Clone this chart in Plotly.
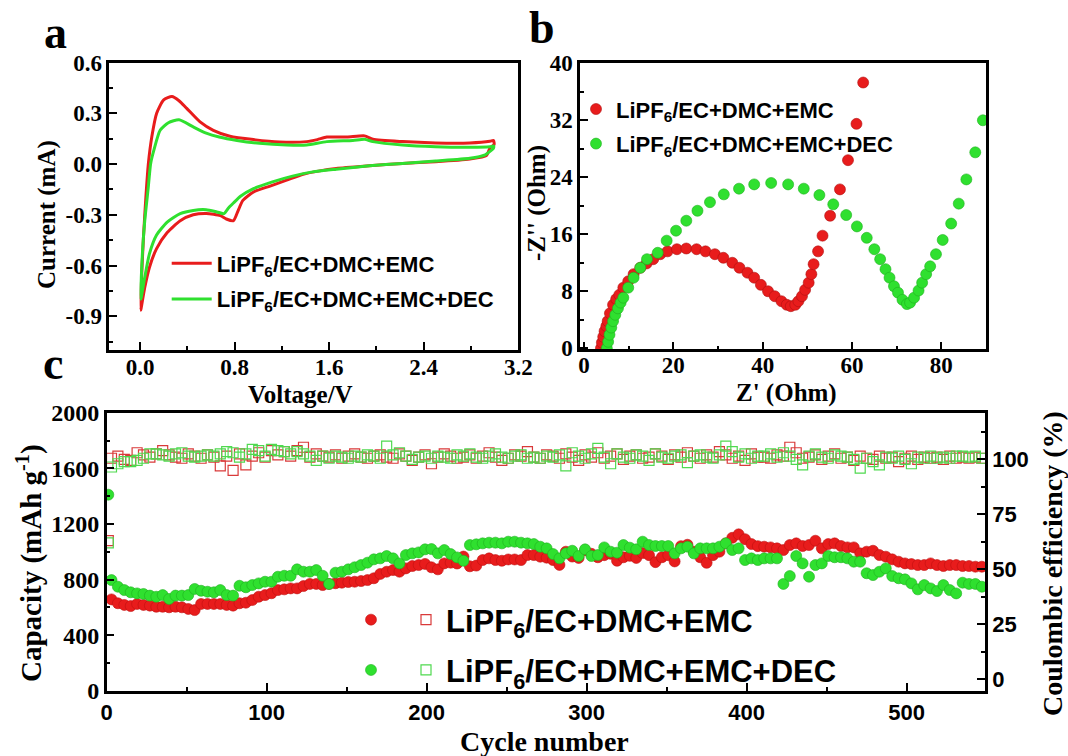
import plotly.graph_objects as go

W, H = 1068, 756
SERIF = "Liberation Serif"
SANS = "Liberation Sans"
RED = "#e81c1c"
GREEN = "#2fe02f"
RED_SQ = "#d93a3a"
GREEN_SQ = "#4fd94f"

LBL1 = "LiPF<sub>6</sub>/EC+DMC+EMC"
LBL2 = "LiPF<sub>6</sub>/EC+DMC+EMC+DEC"

# ---------------- panel a : cyclic voltammetry ----------------
cv_red_v = [0.006, 0.015, 0.03, 0.05, 0.07, 0.10, 0.14, 0.20, 0.27, 0.33, 0.395, 0.508, 0.62, 0.76,
            0.96, 1.18, 1.41, 1.50, 1.58, 1.75, 1.90, 1.97, 2.22, 2.50, 2.79, 2.96, 2.99, 2.995,
            2.96, 2.93, 2.79, 2.50, 2.22, 1.94, 1.66, 1.52, 1.38, 1.24, 1.10, 0.96, 0.87, 0.83,
            0.79, 0.73, 0.68, 0.56, 0.45, 0.34, 0.23, 0.14, 0.08, 0.04, 0.01, 0.006]
cv_red_i = [-0.865, -0.64, -0.42, -0.19, 0.0, 0.163, 0.30, 0.38, 0.40, 0.375, 0.33, 0.25, 0.20, 0.165,
            0.145, 0.131, 0.133, 0.145, 0.16, 0.16, 0.167, 0.147, 0.133, 0.125, 0.125, 0.135, 0.14, 0.115,
            0.095, 0.05, 0.03, 0.014, 0.004, -0.01, -0.026, -0.04, -0.06, -0.095, -0.13, -0.165, -0.215, -0.275,
            -0.335, -0.325, -0.305, -0.292, -0.30, -0.335, -0.405, -0.50, -0.61, -0.73, -0.85, -0.865]
cv_green_v = [0.006, 0.02, 0.04, 0.07, 0.09, 0.12, 0.17, 0.24, 0.33, 0.45, 0.56, 0.67, 0.82, 1.01,
              1.24, 1.41, 1.58, 1.80, 1.90, 1.97, 2.22, 2.50, 2.79, 2.96, 2.99, 2.99, 2.96, 2.92,
              2.79, 2.50, 2.22, 1.94, 1.66, 1.46, 1.29, 1.12, 0.96, 0.85, 0.79, 0.75, 0.71, 0.65,
              0.56, 0.45, 0.34, 0.23, 0.14, 0.08, 0.04, 0.01, 0.006]
cv_green_i = [-0.80, -0.53, -0.335, -0.135, 0.004, 0.09, 0.20, 0.245, 0.262, 0.22, 0.183, 0.16, 0.14, 0.123,
              0.113, 0.113, 0.133, 0.14, 0.147, 0.133, 0.113, 0.103, 0.10, 0.103, 0.107, 0.095, 0.075, 0.055,
              0.034, 0.018, 0.004, -0.01, -0.03, -0.046, -0.071, -0.105, -0.145, -0.19, -0.23, -0.258, -0.293, -0.283,
              -0.27, -0.274, -0.293, -0.343, -0.42, -0.53, -0.67, -0.79, -0.80]
a_xticks = [0.0, 0.8, 1.6, 2.4, 3.2]
a_xticktext = ["0.0", "0.8", "1.6", "2.4", "3.2"]
a_yticks = [-0.9, -0.6, -0.3, 0.0, 0.3, 0.6]
a_yticktext = ["-0.9", "-0.6", "-0.3", "0.0", "0.3", "0.6"]

# ---------------- panel b : impedance ----------------
eis_red_zr = [3.8, 4.0, 4.3, 4.6, 5.0, 5.3, 5.8, 6.5, 7.2, 7.9, 8.8, 9.9, 11.1, 12.6, 14.0, 15.5, 17.1,
              18.7, 20.8, 22.9, 25.2, 27.2, 29.3, 31.2, 33.2, 34.8, 36.6, 38.1, 39.6, 41.2, 42.7, 44.2,
              45.4, 46.3, 47.3, 48.0, 48.8, 49.5, 50.3, 50.9, 51.4, 52.4, 53.4, 55.1, 57.3, 59.1, 61.0, 62.5]
eis_red_zi = [0.0, 0.8, 1.6, 2.4, 3.1, 3.8, 4.9, 6.1, 6.9, 7.5, 8.5, 9.4, 10.4, 11.3, 11.9, 12.5, 13.2,
              13.6, 13.9, 14.0, 13.9, 13.6, 13.2, 12.7, 12.0, 11.3, 10.6, 9.9, 8.9, 8.0, 7.3, 6.6,
              6.1, 5.9, 6.1, 6.6, 7.3, 8.2, 9.2, 10.4, 11.8, 13.6, 15.8, 18.6, 22.3, 26.4, 31.5, 37.3]
eis_green_zr = [5.1, 5.4, 5.7, 6.1, 6.5, 7.0, 7.6, 8.2, 8.8, 9.9, 11.1, 12.6, 14.1, 16.5, 18.5, 20.6, 22.9,
                25.4, 28.2, 31.3, 34.7, 38.1, 41.9, 45.7, 49.2, 52.7, 55.8, 58.7, 61.1, 63.3, 65.0, 66.3,
                67.5, 68.4, 69.4, 70.3, 71.3, 72.3, 73.0, 73.9, 74.9, 75.7, 76.6, 77.5, 78.8, 80.3, 82.2,
                83.9, 85.6, 87.6, 89.3]
eis_green_zi = [0.0, 0.9, 1.9, 2.9, 3.8, 4.7, 5.6, 6.4, 7.1, 8.5, 9.9, 11.3, 12.5, 13.4, 15.1, 16.5, 17.9,
                19.3, 20.5, 21.6, 22.4, 23.0, 23.2, 23.0, 22.4, 21.5, 20.2, 18.7, 17.1, 15.5, 13.9, 12.5,
                11.1, 9.9, 8.7, 7.8, 6.8, 6.2, 6.4, 7.1, 8.1, 9.2, 10.4, 11.5, 13.2, 15.2, 17.5,
                20.3, 23.7, 27.5, 32.0]

# ---------------- panel c : cycling ----------------
cycles = list(range(3, 548, 4))
first_cycle = [1]
cap_red = [657, 629, 617, 609, 624, 617, 612, 604, 604, 600, 604, 600, 588, 580, 624, 624, 624,
           624, 617, 612, 629, 633, 652, 676, 688, 701, 724, 729, 736, 736, 753, 768, 768, 760,
           768, 773, 777, 782, 784, 789, 796, 809, 840, 856, 868, 856, 880, 897, 904, 912, 888,
           873, 916, 921, 915, 965, 895, 900, 940, 952, 940, 935, 944, 944, 940, 976, 976, 964, 957,
           940, 905, 1000, 965, 955, 1010, 985, 960, 975, 985, 935, 960, 970, 955, 990, 975, 925,
           960, 975, 930, 1040, 1050, 1000, 960, 920, 975, 1000, 1060, 1100, 1125, 1090, 1055, 1040,
           1036, 1031, 1024, 1012, 1048, 1060, 1041, 1048, 1079, 1024, 1055, 1060, 1041, 1031, 1031,
           988, 1000, 1007, 976, 964, 945, 928, 916, 911, 904, 904, 916, 904, 897, 904, 904, 897,
           897, 892, 892]
cap_green = [1410,
             796, 748, 724, 708, 700, 696, 684, 676, 688, 660, 684, 684, 688, 732, 719, 712, 708,
             724, 688, 684, 755, 744, 760, 772, 784, 784, 820, 827, 827, 873, 856, 856, 868, 827,
             768, 849, 856, 873, 888, 904, 921, 945, 952, 969, 952, 916, 976, 988, 995, 1017, 1019,
             988, 1012, 983, 959, 935, 1048, 1053, 1060, 1065, 1065, 1060, 1072, 1072, 1065, 1060,
             1055, 1036, 1024,
             983, 952, 988, 1007, 969, 1017, 969, 976, 1031, 1000, 993, 1048, 1029, 1017, 1072, 1048,
             1041, 1041, 1041, 988, 1024, 1036, 988, 1024, 1024, 1024, 1036, 1060, 1012, 1024, 940,
             952, 940,
             952, 952, 952, 768, 825, 969, 916, 820, 904, 916, 969, 960, 960, 952, 928, 928, 845,
             832, 856, 880, 825, 809, 801, 772, 729, 760, 736, 717, 760, 724, 700, 777, 768, 768, 748]
ce_red = [63.0,
          100.5, 101.5, 100.0, 99.5, 103.0, 102.0, 101.0, 102.5, 104.0, 102.0, 101.0, 100.5, 102.5,
          101.5, 100.5, 102.0, 101.0, 97.0, 101.5, 95.0, 102.5, 97.5, 101.5, 103.0, 101.0, 104.0,
          102.0, 103.5, 101.5, 104.0, 105.5, 101.0, 102.5, 101.5,
          101.0, 102.0, 100.5, 101.5, 102.5, 101.0, 100.5, 101.5, 102.0, 101.0, 100.5, 102.5, 101.5,
          99.5, 101.0, 102.0, 98.0, 101.0, 102.5, 101.5, 100.5, 101.0, 102.0, 100.5, 101.5, 103.0,
          101.0, 99.5, 100.5, 102.0, 101.5, 103.5, 101.0, 100.5, 102.0,
          101.5, 100.5, 102.5, 101.0, 99.5, 102.0, 101.0, 103.0, 100.5, 101.5, 102.5, 100.0, 101.5,
          102.0, 100.5, 101.0, 102.5, 101.5, 100.0, 102.0, 101.0, 103.0, 101.5, 100.5, 102.0, 101.0,
          103.5, 102.0, 100.5, 101.5, 99.5, 102.5, 101.0,
          101.0, 100.5, 102.0, 101.5, 105.5, 103.0, 100.5, 101.0, 102.0, 100.0, 101.5, 102.5, 100.5,
          101.0, 99.5, 101.5, 100.5, 100.0, 101.5, 100.5, 101.0, 99.0, 100.5, 101.5, 100.0, 101.0,
          100.5, 101.0, 100.0, 101.5, 100.5, 101.0, 100.5, 101.0, 100.5]
ce_green = [62.0,
            96.5, 98.0, 99.0, 99.0, 99.5, 100.5, 102.5, 102.5, 102.0, 101.5, 102.5, 103.0, 101.5,
            101.0, 101.5, 102.0, 101.5, 102.5, 103.5, 103.0, 101.0, 102.5, 104.5, 104.0, 101.5, 104.5,
            104.0, 103.5, 102.5, 103.5, 102.5, 101.5, 99.5, 101.5,
            100.5, 101.5, 101.0, 100.5, 101.5, 101.0, 102.0, 101.5, 100.5, 106.0, 102.0, 103.0, 101.5,
            100.0, 101.0, 101.5, 100.5, 101.5, 101.0, 100.5, 102.0, 101.5, 102.5, 101.0, 100.5, 101.5,
            102.5, 101.0, 100.5, 101.5, 102.0, 100.5, 101.0, 100.5, 101.5,
            101.0, 102.0, 97.0, 103.0, 101.5, 100.5, 102.5, 105.0, 101.0, 98.0, 102.5, 101.0, 100.5,
            102.0, 101.5, 99.5, 102.5, 101.0, 100.5, 101.5, 102.0, 98.5, 101.5, 102.0, 101.0, 100.5,
            102.0, 106.0, 103.5, 101.0, 102.5, 100.5, 101.5,
            101.5, 102.5, 101.0, 103.0, 101.5, 100.0, 97.5, 101.5, 102.5, 101.0, 100.5, 102.0, 101.5,
            101.0, 100.0, 96.0, 100.5, 99.0, 97.5, 101.0, 100.5, 101.5, 100.0, 98.0, 101.0, 100.5,
            101.5, 100.5, 101.0, 100.5, 101.5, 101.5, 101.0, 101.5, 100.5]
ce_ticks = [0, 25, 50, 75, 100]

# ---------------- geometry (pixels) ----------------
def px(x):
    return x / W

def py(y):
    return 1 - y / H

fig = go.Figure()

# panel a traces
fig.add_trace(go.Scatter(x=cv_red_v, y=cv_red_i, mode="lines", name=LBL1,
                         line=dict(color=RED, width=3, shape="spline", smoothing=0.6),
                         xaxis="x", yaxis="y", legend="legend", legendgroup="a1"))
fig.add_trace(go.Scatter(x=cv_green_v, y=cv_green_i, mode="lines", name=LBL2,
                         line=dict(color=GREEN, width=3, shape="spline", smoothing=0.6),
                         xaxis="x", yaxis="y", legend="legend", legendgroup="a2"))

# panel b traces
fig.add_trace(go.Scatter(x=eis_red_zr, y=eis_red_zi, mode="markers", name=LBL1,
                         marker=dict(color=RED, size=11, line=dict(color="#b01010", width=0.6)),
                         xaxis="x2", yaxis="y2", legend="legend2", legendgroup="b1"))
fig.add_trace(go.Scatter(x=eis_green_zr, y=eis_green_zi, mode="markers", name=LBL2,
                         marker=dict(color=GREEN, size=11, line=dict(color="#1fb01f", width=0.6)),
                         xaxis="x2", yaxis="y2", legend="legend2", legendgroup="b2"))

# panel c traces
fig.add_trace(go.Scatter(x=first_cycle + cycles, y=ce_red, mode="markers", name=LBL1,
                         marker=dict(symbol="square-open", color=RED_SQ, size=10, line=dict(width=1.2)),
                         xaxis="x3", yaxis="y4", legend="legend4", legendgroup="c1"))
fig.add_trace(go.Scatter(x=first_cycle + cycles, y=ce_green, mode="markers", name=LBL2,
                         marker=dict(symbol="square-open", color=GREEN_SQ, size=10, line=dict(width=1.2)),
                         xaxis="x3", yaxis="y4", legend="legend4", legendgroup="c2"))
fig.add_trace(go.Scatter(x=cycles, y=cap_red, mode="markers", name=" ",
                         marker=dict(color=RED, size=11, line=dict(color="#c01010", width=0.6)),
                         xaxis="x3", yaxis="y3", legend="legend3", legendgroup="c3"))
fig.add_trace(go.Scatter(x=first_cycle + cycles, y=cap_green, mode="markers", name=" ",
                         marker=dict(color=GREEN, size=11, line=dict(color="#1fb01f", width=0.6)),
                         xaxis="x3", yaxis="y3", legend="legend3", legendgroup="c4"))

serif_tick = dict(family=SERIF, size=23, color="black", weight="bold")
sans_tick = dict(family=SANS, size=22, color="black", weight="bold")

def axis_common(**kw):
    d = dict(showline=True, linecolor="black", linewidth=2.5, mirror=True,
             ticks="inside", ticklen=8, tickwidth=2, tickcolor="black",
             showgrid=False, zeroline=False, automargin=False)
    d.update(kw)
    return d

def minor(dt):
    return dict(ticks="inside", ticklen=4, tickwidth=2, tickcolor="black", dtick=dt)

leg_font = dict(family=SANS, size=22, color="black", weight="bold")
leg_font_c = dict(family=SANS, size=31, color="black", weight="bold")

fig.update_layout(
    width=W, height=H,
    margin=dict(l=0, r=0, t=0, b=0, autoexpand=False),
    paper_bgcolor="white", plot_bgcolor="white",
    showlegend=True,
    xaxis=axis_common(domain=[px(109.3), px(518.3)], anchor="y", range=[-0.26, 3.2],
                      tickvals=a_xticks, ticktext=a_xticktext, tickfont=serif_tick,
                      minor=minor(0.4), ticklabelstandoff=-5),
    yaxis=axis_common(domain=[py(350), py(62.7)], anchor="x", range=[-1.1, 0.6],
                      tickvals=a_yticks, ticktext=a_yticktext, tickfont=serif_tick,
                      minor=minor(0.15)),
    xaxis2=axis_common(domain=[px(580), px(986)], anchor="y2", range=[-0.9, 90],
                       dtick=20, tick0=0, tickfont=serif_tick, minor=minor(10),
                       ticklabelstandoff=-7),
    yaxis2=axis_common(domain=[py(349.3), py(63.3)], anchor="x2", range=[-0.15, 40],
                       dtick=8, tick0=0, tickfont=serif_tick, minor=minor(4)),
    xaxis3=axis_common(domain=[px(106.7), px(985)], anchor="y3", range=[0, 549],
                       dtick=100, tick0=0, tickfont=sans_tick, minor=minor(50)),
    yaxis3=axis_common(domain=[py(690.7), py(412.7)], anchor="x3", range=[0, 2000],
                       dtick=400, tick0=0, tickfont=dict(family=SERIF, size=24, color="black", weight="bold"),
                       minor=minor(200), mirror=False),
    yaxis4=axis_common(overlaying="y3", side="right", anchor="x3", range=[-5.2, 121.2],
                       tickvals=ce_ticks, tickfont=sans_tick, minor=minor(12.5), mirror=False),
    legend=dict(x=px(166.7), y=py(242.5), xanchor="left", yanchor="top", font=leg_font,
                bgcolor="rgba(0,0,0,0)", itemwidth=40, tracegroupgap=4),
    legend2=dict(x=px(576), y=py(88.2), xanchor="left", yanchor="top", font=leg_font,
                 bgcolor="rgba(0,0,0,0)", tracegroupgap=3),
    legend3=dict(x=px(351), y=py(593), xanchor="left", yanchor="top", font=leg_font_c,
                 bgcolor="rgba(0,0,0,0)", tracegroupgap=7),
    legend4=dict(x=px(406), y=py(593), xanchor="left", yanchor="top", font=leg_font_c,
                 bgcolor="rgba(0,0,0,0)", tracegroupgap=7),
)

def ann(text, x, y, size, family=SERIF, angle=0):
    fig.add_annotation(text=text, x=px(x), y=py(y), xref="paper", yref="paper",
                       showarrow=False, textangle=angle, xanchor="center", yanchor="middle",
                       font=dict(family=family, size=size, color="black", weight="bold"))

# panel letters
ann("a", 55, 32, 46)
ann("b", 542, 28, 46)
ann("c", 53, 364, 46)
# axis titles
ann("Current (mA)", 47, 215, 25, angle=-90)
ann("Voltage/V", 300, 394, 25)
ann("-Z'' (Ohm)", 537, 203, 25, angle=-90)
ann("Z' (Ohm)", 786.7, 393, 25)
ann("Capacity (mAh g<sup>-1</sup>)", 29, 563, 29, angle=-90)
ann("Cycle number", 544, 741, 28)
ann("Coulombic efficiency (%)", 1052, 564, 28, angle=-90)

fig.write_html("out.html")
